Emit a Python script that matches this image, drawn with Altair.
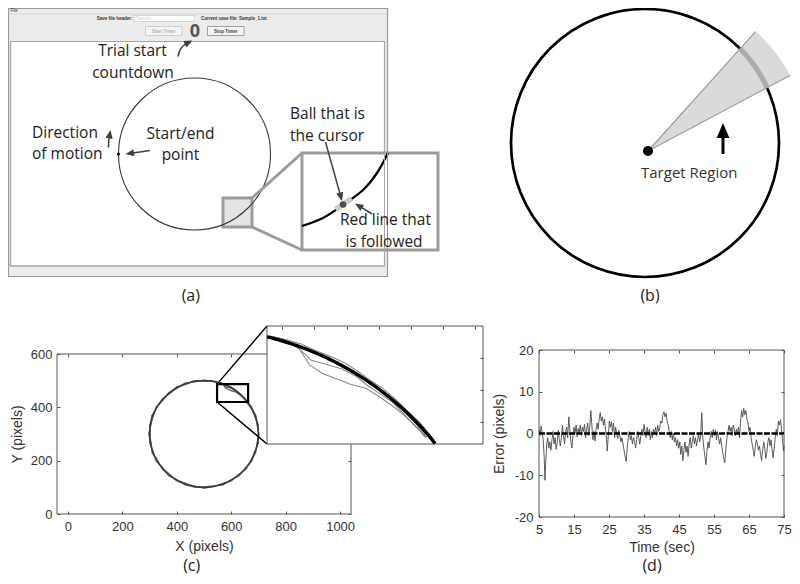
import math
import altair as alt
import numpy as np
import pandas as pd

# ------------------------------------------------------------------ data
# (c) four tracing trials around the target circle: polar angle (deg) and
# radial deviation from the target radius (pixels)
TRACE_ANGLE = [0, 10, 20, 30, 33, 36, 37, 39, 42, 45, 48, 51, 54, 57, 60, 63, 66, 69, 72, 75, 78, 81, 84,
               90, 100, 110, 120, 130, 140, 150, 160, 170, 180, 190, 200, 210, 220, 230, 240, 250, 260,
               270, 280, 290, 300, 310, 320, 330, 340, 350, 360]
TRACE_DEV_1 = [2, -1, 3, -2, -3, -3, -3, -2.3, -2.2, -2.5, -3.2, -3.9, -4.6, -8, -9.8, -10.8, -9, -1.5, 0.8, 0.5, 1, -1, 0,
               2, -2, 3, -1, -3, 2, -1, 4, 1, -3, 2, -2, 3, -1, -3, 2, 0, -2, 3, 1, -2, 2, -1, 3, -2, 1, -1, 2]
TRACE_DEV_2 = [-1, 2, -2, 1, -2, -2.8, -2.8, -2, -1, -0.5, -1, -2, -2.5, -1.5, -2, -4, -5.8, -1.5, 0.5, 0, -1, 1, -2,
               -1, 3, -2, 2, 1, -3, 2, -2, -1, 3, -2, 1, -3, 2, 1, -2, 3, 1, -2, -3, 2, -1, 3, -2, 1, -3, 2, -1]
TRACE_DEV_3 = [1, -2, 1, 2, 1, 0.5, 0.5, 1, 1.5, 1, 1.5, 2, 1.5, 2, 2.5, 2, 1.5, 2, 1.5, 1, 2, 0, 1,
               -2, 1, -1, 3, -2, 0, 3, -1, 2, 0, -3, 3, 0, -2, 3, -1, -2, 2, 0, -1, 3, -2, 1, 0, 3, -1, 2, 1]
TRACE_DEV_4 = [0, 1, -1, -1, -1.5, -1, -1, -1.5, -2.5, -2, -1.5, 0.8, -0.5, 0.3, -0.8, 0.5, -0.5, 0.5, -1, -0.5, 0, 2, -1,
               1, 0, 2, -2, 2, -1, 0, 2, -2, 1, 0, -1, 1, -2, 0, 1, -3, 0, 2, 0, -1, 1, -2, 1, 0, 2, -2, 0]
TARGET_CENTER = (500, 300)
TARGET_RADIUS = 200
ZOOM_BOX = (548, 662, 420, 487)          # data region shown enlarged

# (d) tracking error over time
TIME_SEC = [5.0, 5.3, 5.6, 5.9, 6.2, 6.5, 6.7, 6.9, 7.2, 7.5,
            7.8, 8.1, 8.4, 8.7, 9.0, 9.3, 9.6, 9.9, 10.2, 10.5,
            10.8, 11.1, 11.4, 11.7, 12.0, 12.3, 12.6, 12.9, 13.2, 13.5,
            13.8, 14.1, 14.4, 14.7, 15.0, 15.3, 15.6, 15.9, 16.2, 16.5,
            16.8, 17.1, 17.4, 17.7, 18.0, 18.3, 18.6, 18.9, 19.2, 19.5,
            19.8, 20.1, 20.4, 20.7, 21.0, 21.3, 21.6, 21.9, 22.2, 22.5,
            22.8, 23.1, 23.4, 23.7, 24.0, 24.3, 24.5, 24.8, 25.1, 25.4,
            25.7, 26.0, 26.3, 26.6, 26.9, 27.2, 27.5, 27.8, 28.1, 28.4,
            28.7, 29.0, 29.3, 29.6, 29.9, 30.2, 30.5, 30.8, 31.1, 31.4,
            31.7, 32.0, 32.3, 32.6, 32.9, 33.2, 33.5, 33.8, 34.1, 34.4,
            34.7, 35.0, 35.3, 35.6, 35.9, 36.2, 36.5, 36.8, 37.1, 37.4,
            37.7, 38.0, 38.3, 38.6, 38.9, 39.2, 39.5, 39.8, 40.1, 40.4,
            40.7, 41.0, 41.3, 41.6, 41.9, 42.2, 42.5, 42.8, 43.1, 43.4,
            43.7, 44.0, 44.3, 44.6, 44.9, 45.2, 45.5, 45.8, 46.1, 46.4,
            46.7, 47.0, 47.3, 47.6, 47.9, 48.2, 48.5, 48.8, 49.1, 49.4,
            49.7, 50.0, 50.3, 50.6, 50.9, 51.2, 51.5, 51.8, 52.1, 52.4,
            52.7, 53.0, 53.3, 53.6, 53.9, 54.2, 54.5, 54.8, 55.1, 55.4,
            55.7, 56.0, 56.3, 56.6, 56.9, 57.2, 57.5, 57.8, 58.1, 58.4,
            58.7, 59.0, 59.3, 59.6, 59.9, 60.2, 60.5, 60.8, 61.1, 61.4,
            61.7, 62.0, 62.3, 62.6, 62.9, 63.2, 63.5, 63.8, 64.1, 64.4,
            64.7, 65.0, 65.3, 65.6, 65.9, 66.2, 66.5, 66.8, 67.1, 67.4,
            67.7, 68.0, 68.3, 68.6, 68.9, 69.2, 69.5, 69.8, 70.1, 70.4,
            70.7, 71.0, 71.3, 71.6, 71.9, 72.2, 72.5, 72.8, 73.1, 73.4,
            73.7, 74.0, 74.3, 74.6, 74.9, 75.0]
ERROR_PX = [1.0, -0.5, 1.8, 0.2, -1.5, -6.0, -11.2, -7.5, -2.5, -1.0,
            -3.5, -2.0, -4.0, -1.5, 0.5, -2.5, -1.0, -3.8, -2.2, 0.8,
            -1.5, -3.0, -1.0, 2.0, -0.5, -2.5, 0.5, 1.5, -1.0, 4.0,
            1.0, -2.0, -3.5, -0.5, 1.5, 0.0, 2.0, -0.8, 1.2, 0.2,
            2.0, -0.5, 1.5, 0.5, 2.2, -1.0, 1.0, 2.5, -0.5, 1.5,
            5.5, 2.0, -1.5, 0.5, -1.8, 1.0, 2.5, 1.0, 3.5, 5.0,
            3.0, 4.0, 2.0, 3.5, 1.0, -1.5, -4.2, -0.5, 3.0, 1.5,
            2.8, 0.5, 2.5, -1.0, 1.5, 0.0, -1.2, 0.8, -0.5, -2.0,
            -1.0, -2.5, -4.0, -5.5, -6.7, -3.5, -1.0, 0.5, -1.5, -0.5,
            -2.5, -1.0, -2.0, -3.5, -1.5, 0.5, -1.0, -2.5, -0.5, 1.0,
            -0.5, 2.2, 0.5, -1.0, 1.5, -0.5, 1.0, -1.5, 0.5, -1.0,
            1.0, 0.0, 1.5, -0.5, 2.0, 0.5, 1.5, 3.0, 2.5, 4.5,
            5.2, 4.0, 4.8, 3.0, 2.0, 0.5, -1.0, 0.5, -1.5, 0.0,
            -2.0, -1.0, -3.0, -1.5, -3.5, -2.0, -5.0, -3.0, -6.5, -4.0,
            -2.0, -4.5, -3.0, -5.5, -2.5, -1.0, -3.5, -2.0, -0.5, -2.5,
            -1.0, -3.0, -1.5, 0.0, -2.0, -0.5, 5.0, -1.0, -3.5, -5.5,
            -7.5, -4.0, -2.0, -3.5, -1.0, 0.5, -1.0, 1.0, -0.5, 0.8,
            -1.5, 0.5, -1.0, -2.5, -1.0, -3.0, -4.5, -6.0, -7.0, -3.5,
            -1.0, 0.5, 2.0, 0.5, 1.5, -0.5, 2.0, 1.0, -0.5, 1.0,
            0.0, 1.5, -1.0, 3.0, 5.5, 4.0, 6.0, 4.5, 5.5, 3.5,
            2.5, 0.5, 1.5, -1.0, -2.5, -4.0, -5.5, -3.0, -1.5, -2.5,
            -4.0, -3.0, -5.0, -6.5, -4.0, -2.0, -3.5, -6.0, -4.5, -2.0,
            -1.0, -3.0, -1.5, -4.0, -5.8, -3.5, -1.0, 1.0, -0.5, 3.0,
            2.0, 3.3, 1.0, -2.0, -4.2, -3.0]

C_X_TICKS = [0, 200, 400, 600, 800, 1000]
C_Y_TICKS = [0, 200, 400, 600]
D_X_TICKS = [5, 15, 25, 35, 45, 55, 65, 75]
D_Y_TICKS = [-20, -10, 0, 10, 20]
INSET_X_TICKS = [560, 581, 602, 623, 644, 665, 686]
INSET_Y_TICKS = [435, 457, 479]

# ------------------------------------------------------------------ layout
W, H, M = 784, 568, 8
FT = "Open Sans"
FA = "Liberation Sans"
C_XDOM, C_XPX, C_YDOM, C_YPX = [-40, 1040], [57, 351], [0, 600], [514, 354]
I_XDOM, I_XPX, I_YDOM, I_YPX = [550, 691], [267, 483], [420, 501], [444, 326]
D_XDOM, D_XPX, D_YDOM, D_YPX = [5, 75], [539, 784], [-20, 20], [517, 350]


def sc(dom, px):
    return alt.Scale(domain=[float(d) for d in dom], range=[float(p) - M for p in px], nice=False, zero=False)


def lin(v, dom, px):
    return px[0] + (v - dom[0]) / (dom[1] - dom[0]) * (px[1] - px[0])


def pxy(xf="x", yf="y"):
    return dict(x=alt.X(f"{xf}:Q", scale=sc([0, 800], [0, 800]), axis=None),
                y=alt.Y(f"{yf}:Q", scale=sc([0, 584], [0, 584]), axis=None))


def rects(rows):
    df = pd.DataFrame(rows, columns=["x0", "x1", "y0", "y1", "fill", "stroke", "sw"])
    return alt.Chart(df).mark_rect().encode(
        **pxy("x0", "y0"), x2="x1:Q", y2="y1:Q",
        fill=alt.Fill("fill:N", scale=None), stroke=alt.Stroke("stroke:N", scale=None),
        strokeWidth=alt.StrokeWidth("sw:Q", scale=None))


def polyline(lines, color, width, interp="linear", dash=None):
    rows = [dict(id=k, i=i, x=p[0], y=p[1]) for k, pts in enumerate(lines) for i, p in enumerate(pts)]
    kw = dict(color=color, strokeWidth=width, interpolate=interp, strokeCap="butt")
    if dash:
        kw["strokeDash"] = dash
    return alt.Chart(pd.DataFrame(rows)).mark_line(**kw).encode(**pxy(), detail="id:N", order="i:Q")


def points(rows, shape="circle", filled=True, **kw):
    df = pd.DataFrame(rows)
    enc = pxy()
    enc["size"] = alt.Size("s:Q", scale=None)
    if "ang" in df:
        enc["angle"] = alt.Angle("ang:Q", scale=None)
    return alt.Chart(df).mark_point(shape=shape, filled=filled, opacity=1, **kw).encode(**enc)


def texts(rows, font, size, color, align="center", weight="normal"):
    df = pd.DataFrame(rows, columns=["t", "x", "y"])
    return alt.Chart(df).mark_text(font=font, fontSize=size, color=color, align=align,
                                   fontWeight=weight, baseline="alphabetic").encode(**pxy(), text="t:N")


HEAD = "M0,-1L0.85,1L-0.85,1Z"


def arrows(paths, color, width, head_size, interp="cardinal"):
    lines, heads = [], []
    L = math.sqrt(head_size)
    for pts in paths:
        (px_, py_), (tx, ty) = pts[-2], pts[-1]
        dx, dy = tx - px_, ty - py_
        n = math.hypot(dx, dy)
        ux, uy = dx / n, dy / n
        cx, cy = tx - ux * L / 2, ty - uy * L / 2
        lines.append(list(pts[:-1]) + [(cx, cy)])
        heads.append(dict(x=cx, y=cy, s=head_size, ang=math.degrees(math.atan2(dx, -dy)) % 360))
    return [polyline(lines, color, width, interp),
            points(heads, shape=HEAD, filled=True, color=color)]


def frame(xdom, xpx, ydom, ypx, xvals, yvals, sides, ts=3, stroke="#555", fill="transparent", z=1):
    left, right = xpx[0] - M, xpx[1] - M
    top, bottom = ypx[1] - M, ypx[0] - M
    df = pd.DataFrame([dict(x0=xdom[0], x1=xdom[1], y0=ydom[0], y1=ydom[1])])

    def tax(orient, vals):
        if orient not in sides:
            return None
        off = {"bottom": bottom - ts - H, "top": -(top + ts),
               "left": -(left + ts), "right": right - ts - W}[orient]
        return alt.Axis(orient=orient, offset=off, values=vals, labels=False, domain=False, ticks=True,
                        tickSize=ts, tickColor=stroke, tickWidth=1, grid=False, title=None, zindex=z)

    l1 = alt.Chart(df).mark_rect(fill=fill, stroke=stroke, strokeWidth=1).encode(
        x=alt.X("x0:Q", scale=sc(xdom, xpx), axis=tax("bottom", xvals)), x2="x1:Q",
        y=alt.Y("y0:Q", scale=sc(ydom, ypx), axis=tax("left", yvals)), y2="y1:Q")
    l2 = alt.Chart(df).mark_rect(opacity=0).encode(
        x=alt.X("x0:Q", scale=sc(xdom, xpx), axis=tax("top", xvals)), x2="x1:Q",
        y=alt.Y("y0:Q", scale=sc(ydom, ypx), axis=tax("right", yvals)), y2="y1:Q")
    return [l1, l2]


def label_axes(xdom, xpx, ydom, ypx, xvals, yvals, xtitle, ytitle, ypad, ytp, xtp, z=1):
    left = xpx[0] - M
    bottom = ypx[0] - M
    common = dict(domain=False, ticks=False, tickSize=0, grid=False, labelFont=FA, labelFontSize=13,
                  labelColor="#333", labelFlush=False, labelExpr="'' + datum.value", titleFont=FA,
                  titleFontSize=14, titleFontWeight="normal", titleColor="#333", zindex=z)
    ax = alt.Axis(orient="bottom", offset=bottom - H, values=xvals, labelPadding=6, title=xtitle,
                  titlePadding=xtp, **common)
    ay = alt.Axis(orient="left", offset=-left, values=yvals, labelPadding=ypad, title=ytitle,
                  titlePadding=ytp, **common)
    return (alt.X("x:Q", scale=sc(xdom, xpx), axis=ax), alt.Y("y:Q", scale=sc(ydom, ypx), axis=ay))


layers = []

# ================================================================ panel (a)
layers.append(rects([
    (8.5, 387.5, 8.5, 276.5, "#ececec", "#9a9a9a", 1.2),
    (134, 194, 15.5, 21.5, "#ffffff", "#c8c8c8", 0.7),
    (145.5, 182, 26.5, 35.5, "#f4f4f4", "#c4c4c4", 0.8),
    (207.5, 244, 26.5, 35.5, "#f4f4f4", "#8c8c8c", 0.8),
    (10.5, 384.5, 41.5, 266, "#ffffff", "#a6a6a6", 1.2),
    (223, 252, 198, 227, "#e4e4e4", "#9b9b9b", 3),
]))
layers.append(polyline([[(8.5, 14), (387.5, 14)]], "#d2d2d2", 0.8))
layers.append(points([dict(x=194.5, y=154, s=152 ** 2)], filled=False, stroke="#3a3a3a", strokeWidth=1.1))
layers.append(points([dict(x=118.5, y=154, s=10)], color="#111"))
layers.append(polyline([[(252, 198), (302, 153)], [(252, 227), (302, 250)]], "#9b9b9b", 3))
layers.append(rects([(302, 438, 153, 250, "#ffffff", "#9b9b9b", 3)]))
layers.append(polyline([[(302, 226), (323, 218), (343, 205), (363, 190), (377, 173), (388, 153)]],
                       "#000", 2.3, "cardinal"))
layers.append(polyline([[(335.5, 209.5), (351.5, 198.5)]], "#cccccc", 5.5))
layers.append(points([dict(x=343, y=204.5, s=42)], color="#4d4d4d"))
layers.append(rects([
    (8.5, 387.5, 8.5, 276.5, "transparent", "#9a9a9a", 1.0),
    (10.5, 384.5, 41.5, 266, "transparent", "#a6a6a6", 1.0),
]))
layers += arrows([
    [(178, 56.5), (180.5, 49), (185.5, 44), (192.5, 40.5)],
    [(108.5, 147.5), (108.8, 140), (110.5, 130)],
    [(150, 150.5), (125.5, 154)],
    [(325.5, 142), (342, 201)],
    [(372, 214), (355, 203.5)],
], "#404040", 1.5, 72)
layers.append(texts([
    ("Trial start", 132.5, 56), ("countdown", 133, 77.5),
    ("Start/end", 180.5, 138.5), ("point", 180.5, 159.5),
    ("Ball that is", 327.5, 119), ("the cursor", 327, 140.5),
    ("Red line that", 385.5, 225), ("is followed", 384, 246.5),
], FT, 15.5, "#222"))
layers.append(texts([("Direction", 32, 137.5), ("of motion", 32, 159)], FT, 15.5, "#222", align="left"))
layers.append(texts([("File", 10.5, 12.3)], FA, 4.5, "#333", align="left"))
layers.append(texts([("Save file header:", 132.5, 20.2)], FA, 4.5, "#333", align="right", weight="bold"))
layers.append(texts([("Current save file: Sample_1.txt", 201, 20.2)], FA, 4.5, "#333", align="left", weight="bold"))
layers.append(texts([("Sample", 136, 20.2)], FA, 4.5, "#d0d0d0", align="left"))
layers.append(texts([("Start Timer", 163.7, 32.6)], FA, 4.5, "#b5b5b5", weight="bold"))
layers.append(texts([("Stop Timer", 225.7, 32.6)], FA, 4.5, "#444", weight="bold"))
layers.append(texts([("0", 195, 36.5)], FT, 18, "#555", weight="bold"))

# ================================================================ panel (b)
B_C, B_DIAM, B_DOT, W_ANG, W_LEN = (645, 143), 268, (648, 151), (28, 48), 161
layers.append(points([dict(x=B_C[0], y=B_C[1], s=B_DIAM ** 2)], filled=False, stroke="#000", strokeWidth=2.7))
layers.append(alt.Chart(pd.DataFrame([dict(x=B_DOT[0], y=B_DOT[1])])).mark_arc(
    theta=math.radians(90 - W_ANG[1]), theta2=math.radians(90 - W_ANG[0]), radius=W_LEN,
    fill="#d3d3d3", opacity=0.85).encode(**pxy()))
layers.append(alt.Chart(pd.DataFrame([dict(x=B_C[0], y=B_C[1])])).mark_arc(
    theta=math.radians(45.2), theta2=math.radians(65.7), radius=B_DIAM / 2 + 2.6, radius2=B_DIAM / 2 - 2.6,
    fill="#a8a8a8", opacity=0.9).encode(**pxy()))
layers.append(polyline([[B_DOT, (B_DOT[0] + W_LEN * math.cos(math.radians(a)),
                                 B_DOT[1] - W_LEN * math.sin(math.radians(a)))] for a in W_ANG], "#9d9d9d", 1.2))
layers.append(points([dict(x=B_DOT[0], y=B_DOT[1], s=100)], color="#000"))
layers += arrows([[(723, 154), (723, 123)]], "#000", 3, 225)
layers.append(texts([("Target Region", 689.2, 177.5)], FT, 15, "#333"))

# ================================================================ panel (c)
ang = np.radians(TRACE_ANGLE)
trace_rows = []
for k, dev in enumerate([TRACE_DEV_1, TRACE_DEV_2, TRACE_DEV_3, TRACE_DEV_4]):
    r = TARGET_RADIUS + np.array(dev, dtype=float)
    for i, (xx, yy) in enumerate(zip(TARGET_CENTER[0] + r * np.cos(ang), TARGET_CENTER[1] + r * np.sin(ang))):
        trace_rows.append(dict(trial=k, i=i, x=float(xx), y=float(yy)))
traces = pd.DataFrame(trace_rows)
th = np.radians(np.arange(0, 360.25, 0.25))
ideal = pd.DataFrame(dict(i=np.arange(len(th)), x=TARGET_CENTER[0] + TARGET_RADIUS * np.cos(th),
                          y=TARGET_CENTER[1] + TARGET_RADIUS * np.sin(th)))


def inside(df):
    return df[(df.x >= I_XDOM[0]) & (df.x <= I_XDOM[1]) & (df.y >= I_YDOM[0]) & (df.y <= I_YDOM[1])]


layers += frame(C_XDOM, C_XPX, C_YDOM, C_YPX, C_X_TICKS, C_Y_TICKS,
                ("bottom", "left", "top", "right"), z=0)
cx, cy = label_axes(C_XDOM, C_XPX, C_YDOM, C_YPX, C_X_TICKS, C_Y_TICKS, "X (pixels)", "Y (pixels)",
                    5, 6, 6, z=0)
layers.append(alt.Chart(traces).mark_line(color="#5e5e5e", strokeWidth=1.2).encode(
    x=cx, y=cy, detail="trial:N", order="i:Q"))
layers.append(alt.Chart(ideal).mark_line(color="#222", strokeWidth=1).encode(
    x=alt.X("x:Q", scale=sc(C_XDOM, C_XPX), axis=None),
    y=alt.Y("y:Q", scale=sc(C_YDOM, C_YPX), axis=None), order="i:Q"))
layers.append(alt.Chart(pd.DataFrame([dict(x0=ZOOM_BOX[0], x1=ZOOM_BOX[1], y0=ZOOM_BOX[2], y1=ZOOM_BOX[3])]))
              .mark_rect(fill="transparent", stroke="#000", strokeWidth=2.2).encode(
    x=alt.X("x0:Q", scale=sc(C_XDOM, C_XPX), axis=None), x2="x1:Q",
    y=alt.Y("y0:Q", scale=sc(C_YDOM, C_YPX), axis=None), y2="y1:Q"))
zb_left = lin(ZOOM_BOX[0], C_XDOM, C_XPX)
layers.append(polyline([
    [(zb_left, lin(ZOOM_BOX[3], C_YDOM, C_YPX)), (I_XPX[0], I_YPX[1])],
    [(zb_left, lin(ZOOM_BOX[2], C_YDOM, C_YPX)), (I_XPX[0], I_YPX[0])],
], "#000", 1.5))
layers += frame(I_XDOM, I_XPX, I_YDOM, I_YPX, INSET_X_TICKS, INSET_Y_TICKS, ("top", "right"),
                stroke="#555", fill="#ffffff", z=1)
layers.append(alt.Chart(inside(traces)).mark_line(color="#8a8a8a", strokeWidth=1.1).encode(
    x=alt.X("x:Q", scale=sc(I_XDOM, I_XPX), axis=None),
    y=alt.Y("y:Q", scale=sc(I_YDOM, I_YPX), axis=None), detail="trial:N", order="i:Q"))
layers.append(alt.Chart(inside(ideal)).mark_line(color="#000", strokeWidth=3.4).encode(
    x=alt.X("x:Q", scale=sc(I_XDOM, I_XPX), axis=None),
    y=alt.Y("y:Q", scale=sc(I_YDOM, I_YPX), axis=None), order="i:Q"))

# ================================================================ panel (d)
layers += frame(D_XDOM, D_XPX, D_YDOM, D_YPX, D_X_TICKS, D_Y_TICKS, ("bottom", "left", "top", "right"))
dx_, dy_ = label_axes(D_XDOM, D_XPX, D_YDOM, D_YPX, D_X_TICKS, D_Y_TICKS, "Time (sec)", "Error (pixels)",
                      6, 8, 4)
layers.append(alt.Chart(pd.DataFrame(dict(x=TIME_SEC, y=ERROR_PX))).mark_line(
    color="#4a4a4a", strokeWidth=0.9).encode(x=dx_, y=dy_))
layers.append(alt.Chart(pd.DataFrame([dict(t0=D_XDOM[0], t1=D_XDOM[1], e=0)])).mark_rule(
    color="#000", strokeWidth=2.6, strokeDash=[6, 1.5]).encode(
    x=alt.X("t0:Q", scale=sc(D_XDOM, D_XPX), axis=None), x2="t1:Q",
    y=alt.Y("e:Q", scale=sc(D_YDOM, D_YPX), axis=None)))

# ================================================================ panel letters
layers.append(texts([("(a)", 190.8, 301), ("(b)", 650, 301), ("(c)", 191.7, 571), ("(d)", 652, 571)],
                    FT, 16, "#222"))

chart = alt.layer(*layers).resolve_scale(x="independent", y="independent").resolve_axis(
    x="independent", y="independent").properties(
    width=W, height=H, padding=0, background="white",
    autosize=alt.AutoSizeParams(type="none")).configure_view(strokeWidth=0)

chart.save("out.html", embed_options={"renderer": "svg", "actions": False})
